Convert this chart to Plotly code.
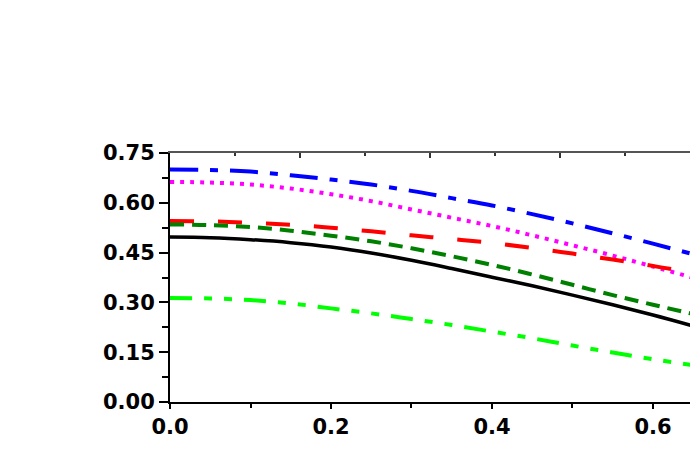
import plotly.graph_objects as go

# sample positions along the x axis
x_vals = [0.0, 0.05, 0.10, 0.15, 0.20, 0.25, 0.30, 0.35, 0.40, 0.45, 0.50, 0.55, 0.60, 0.65]

# curves
blue_vals = [0.700, 0.699, 0.694, 0.683, 0.670, 0.655, 0.636, 0.614, 0.592, 0.566, 0.538, 0.508, 0.477, 0.445]
magenta_vals = [0.663, 0.661, 0.655, 0.643, 0.626, 0.605, 0.580, 0.555, 0.530, 0.502, 0.472, 0.441, 0.408, 0.374]
red_vals = [0.545, 0.544, 0.540, 0.534, 0.525, 0.514, 0.502, 0.491, 0.479, 0.464, 0.447, 0.429, 0.410, 0.388]
green_vals = [0.535, 0.533, 0.527, 0.516, 0.501, 0.484, 0.463, 0.439, 0.413, 0.384, 0.353, 0.322, 0.293, 0.265]
black_vals = [0.497, 0.495, 0.489, 0.480, 0.467, 0.449, 0.427, 0.402, 0.376, 0.350, 0.322, 0.293, 0.262, 0.229]
lime_vals = [0.313, 0.312, 0.307, 0.297, 0.282, 0.267, 0.250, 0.232, 0.212, 0.192, 0.170, 0.149, 0.129, 0.111]

y_ticks = [0.00, 0.15, 0.30, 0.45, 0.60, 0.75]
x_ticks = [0.0, 0.2, 0.4, 0.6]

tick_font = dict(family="DejaVu Sans", size=21, color="black", weight="bold")

series = [
    (blue_vals, "#0000ff", "28px,12px,8px,12px", 4),
    (magenta_vals, "#ff00ff", "4px,6px", 4),
    (red_vals, "#ff0000", "24px,24px", 4),
    (green_vals, "#008000", "14px,8px", 4),
    (black_vals, "#000000", "solid", 3.5),
    (lime_vals, "#00ff00", "22px,12px,8px,12px,8px,12px", 4),
]

fig = go.Figure()
for vals, color, dash, width in series:
    fig.add_trace(go.Scatter(
        x=x_vals, y=vals, mode="lines",
        line=dict(color=color, dash=dash, width=width, shape="spline"),
        showlegend=False,
    ))

# empty trace so the top axis gets drawn
fig.add_trace(go.Scatter(x=[], y=[], xaxis="x2", mode="lines", showlegend=False))

fig.update_layout(
    width=690, height=460,
    margin=dict(l=170, r=0, t=153, b=58),
    paper_bgcolor="white", plot_bgcolor="white",
    xaxis=dict(
        range=[0, 0.646], tickvals=x_ticks, tickformat=".1f",
        showline=True, linecolor="black", linewidth=2,
        ticks="outside", ticklen=5, tickwidth=1.5, tickcolor="black",
        minor=dict(dtick=0.1, ticks="outside", ticklen=4, tickwidth=1.5, tickcolor="black"),
        showgrid=False, zeroline=False, tickfont=tick_font,
    ),
    xaxis2=dict(
        overlaying="x", side="top", range=[0, 4],
        showline=True, linecolor="#555555", linewidth=1.5,
        ticks="inside", dtick=1, tick0=0, ticklen=5, tickwidth=1.5, tickcolor="#333333",
        minor=dict(dtick=0.5, ticks="inside", ticklen=3, tickwidth=1.5, tickcolor="#333333"),
        showticklabels=False, showgrid=False, zeroline=False,
    ),
    yaxis=dict(
        range=[0, 0.75], tickvals=y_ticks, tickformat=".2f",
        showline=True, linecolor="black", linewidth=2,
        ticks="outside", ticklen=9, tickwidth=1.5, tickcolor="black",
        minor=dict(dtick=0.075, ticks="outside", ticklen=6, tickwidth=1.5, tickcolor="black"),
        showgrid=False, zeroline=False, tickfont=tick_font,
    ),
)

# drop the page's default body margin so the figure sits at the window corner
fig.write_html("out.html", config={"displayModeBar": False},
               post_script="document.body.style.margin = '0';")
